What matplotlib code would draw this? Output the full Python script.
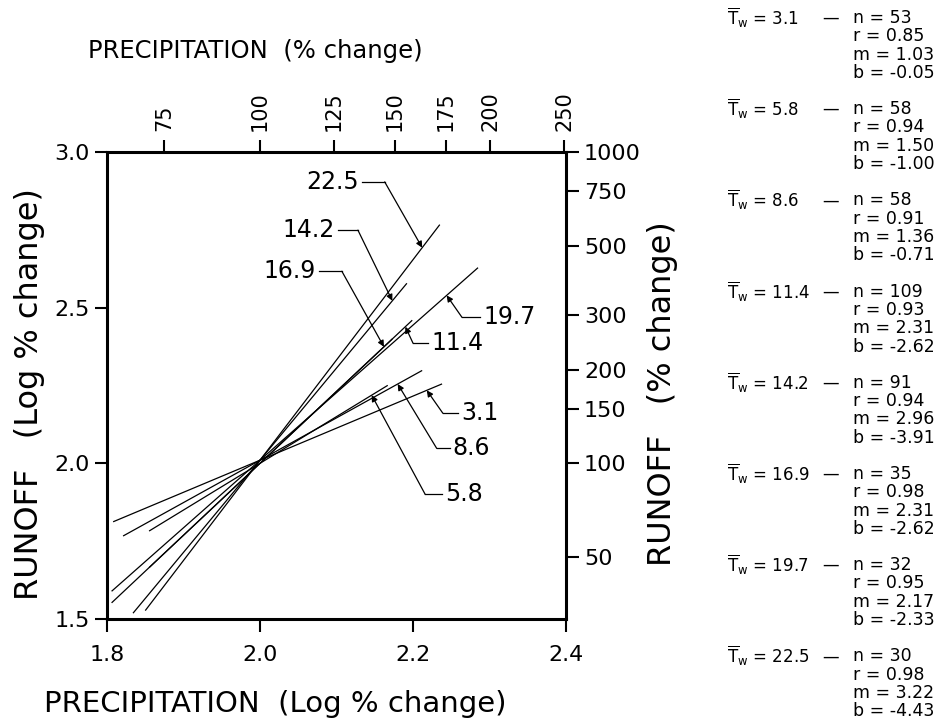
import numpy as np
import matplotlib
matplotlib.use("Agg")
import matplotlib.pyplot as plt

plt.rcParams['font.family'] = ['DejaVu Sans']
plt.rcParams['mathtext.fontset'] = 'dejavusans'

# ---- data ----
tw_labels = ["3.1", "5.8", "8.6", "11.4", "14.2", "16.9", "19.7", "22.5"]
n_vals = [53, 58, 58, 109, 91, 35, 32, 30]
r_vals = ["0.85", "0.94", "0.91", "0.93", "0.94", "0.98", "0.95", "0.98"]
m_vals = [1.03, 1.50, 1.36, 2.31, 2.96, 2.31, 2.17, 3.22]
b_vals = [-0.05, -1.00, -0.71, -2.62, -3.91, -2.62, -2.33, -4.43]
x_start = [1.808, 1.855, 1.821, 1.806, 1.834, 1.855, 1.806, 1.850]
x_end = [2.238, 2.167, 2.212, 2.199, 2.192, 2.173, 2.285, 2.235]

top_tick_vals = [75, 100, 125, 150, 175, 200, 250]
right_tick_vals = [50, 100, 150, 200, 300, 500, 750, 1000]
bottom_ticks = [1.8, 2.0, 2.2, 2.4]
left_ticks = [1.5, 2.0, 2.5, 3.0]

# leader layout: (target x on line, bend x, bend y, end x, text side)
leaders = {
    "22.5": (2.212, 2.163, 2.904, 2.133, 'left'),
    "14.2": (2.173, 2.128, 2.749, 2.102, 'left'),
    "16.9": (2.162, 2.107, 2.617, 2.077, 'left'),
    "11.4": (2.190, 2.200, 2.386, 2.220, 'right'),
    "19.7": (2.244, 2.264, 2.469, 2.288, 'right'),
    "3.1":  (2.218, 2.239, 2.161, 2.259, 'right'),
    "8.6":  (2.180, 2.231, 2.048, 2.248, 'right'),
    "5.8":  (2.146, 2.216, 1.900, 2.238, 'right'),
}

W, H = 948, 723
fig = plt.figure(figsize=(W / 100, H / 100), dpi=100)
ax = fig.add_axes([107 / W, 1 - 619 / H, 459 / W, 467 / H])
ax.set_xlim(1.8, 2.4)
ax.set_ylim(1.5, 3.0)

for i in range(len(tw_labels)):
    xs = np.array([x_start[i], x_end[i]])
    ax.plot(xs, m_vals[i] * xs + b_vals[i], color='black', lw=0.9,
            solid_capstyle='butt')

for i, lab in enumerate(tw_labels):
    tx, bx, by, ex, side = leaders[lab]
    ty = m_vals[i] * tx + b_vals[i]
    ax.plot([ex, bx], [by, by], color='black', lw=0.9)
    ax.annotate('', xy=(tx, ty), xytext=(bx, by),
                arrowprops=dict(arrowstyle='-|>', color='black', lw=0.9,
                                mutation_scale=9, shrinkA=0, shrinkB=0))
    if side == 'left':
        ax.text(ex - 0.004, by, lab, ha='right', va='center', fontsize=17)
    else:
        ax.text(ex + 0.004, by, lab, ha='left', va='center', fontsize=17)

for s in ax.spines.values():
    s.set_linewidth(2.2)

ax.set_xticks(bottom_ticks)
ax.set_xticklabels([f"{v:.1f}" for v in bottom_ticks])
ax.set_yticks(left_ticks)
ax.set_yticklabels([f"{v:.1f}" for v in left_ticks])
ax.tick_params(direction='out', length=9, width=1.5, labelsize=16)
ax.tick_params(axis='x', pad=10)

secx = ax.secondary_xaxis('top')
secx.set_xticks(np.log10(top_tick_vals))
secx.set_xticklabels([str(v) for v in top_tick_vals], rotation=90)
secx.tick_params(direction='out', length=9, width=1.5, labelsize=15, pad=6)

secy = ax.secondary_yaxis('right')
secy.set_yticks(np.log10(right_tick_vals))
secy.set_yticklabels([str(v) for v in right_tick_vals])
secy.tick_params(direction='out', length=9, width=1.5, labelsize=16, pad=4)

def ftext(px, py, s, **kw):
    fig.text(px / W, 1 - py / H, s, **kw)

ftext(255, 51, "PRECIPITATION  (% change)", ha='center', va='center', fontsize=17.5)
ftext(275, 704, "PRECIPITATION  (Log % change)", ha='center', va='center', fontsize=21)
ftext(30, 394, "RUNOFF   (Log % change)", ha='center', va='center', fontsize=23, rotation=90)
ftext(662, 394, "RUNOFF   (% change)", ha='center', va='center', fontsize=23, rotation=90)

# statistics table
for k, lab in enumerate(tw_labels):
    y0 = 18 + 91.2 * k
    ftext(727, y0, r'$\overline{\mathrm{T}}_{\mathrm{w}}$' + f" = {lab}",
          ha='left', va='center', fontsize=12)
    ftext(822, y0, "\u2014", ha='left', va='center', fontsize=12)
    lines = [f"n = {n_vals[k]}", f"r = {r_vals[k]}",
             f"m = {m_vals[k]:.2f}", f"b = {b_vals[k]:.2f}"]
    for j, t in enumerate(lines):
        ftext(853, y0 + 18.3 * j, t, ha='left', va='center', fontsize=12.5)

fig.savefig("out.png", dpi=100)
